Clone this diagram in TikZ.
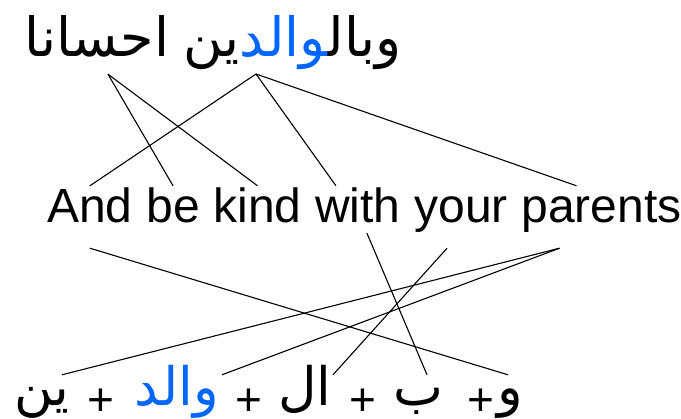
\documentclass[tikz,border=0pt]{standalone}
\usepackage{fontspec}
\usetikzlibrary{positioning}
\setmainfont{Liberation Sans}
\newfontfamily\arabicfont[Script=Arabic]{DejaVu Sans}
\TeXXeTstate=1
\definecolor{arblue}{RGB}{0,102,255}
\newcommand{\ar}[1]{{\arabicfont\beginR #1\endR}}
\tikzset{
  enword/.style={
    inner sep=0pt,
    text height=37pt,
    text depth=25pt,
    font=\fontsize{48}{56}\selectfont
  },
  artop/.style={
    inner sep=0pt,
    text height=50pt,
    text depth=16pt,
    font=\fontsize{54}{60}\selectfont
  },
  arbottom/.style={
    inner sep=0pt,
    text height=31pt,
    text depth=10pt,
    anchor=base,
    font=\fontsize{53}{60}\selectfont
  },
  plussign/.style={
    inner sep=0pt,
    anchor=base,
    font=\fontsize{46}{52}\selectfont
  },
  link/.style={
    line width=1.1pt,
    draw=black
  }
}

\begin{document}
\begin{tikzpicture}[x=1pt, y=-1pt, node distance=13.34pt]
  \useasboundingbox (0,0) rectangle (681,419);

  % Arabic verse
  \node[artop, anchor=base] (ihsana) at (97,57) {\ar{احسانا}};
  \node[artop, anchor=base east] (wbal) at (402,57) {\ar{وبال^^^^200d}};
  \node[artop, text=arblue, base left=0pt of wbal] (waldtop) {\ar{^^^^200dوالد}};
  \node[artop, base left=0pt of waldtop] (yntop) {\ar{ين}};

  % English translation
  \node[enword, anchor=base west] (and) at (47,223) {And};
  \node[enword, base right=of and] (be) {be};
  \node[enword, base right=of be] (kind) {kind};
  \node[enword, base right=of kind] (with) {with};
  \node[enword, base right=of with] (your) {your};
  \node[enword, base right=of your] (parents) {parents};

  % morphemes
  \node[arbottom] (yn) at (42,406) {\ar{ين}};
  \node[plussign] (plusa) at (101,416) {+};
  \node[arbottom, text=arblue] (wald) at (177,406) {\ar{والد}};
  \node[plussign] (plusb) at (249,416) {+};
  \node[arbottom] (al) at (305,406) {\ar{ال}};
  \node[plussign] (plusc) at (363,416) {+};
  \node[arbottom] (ba) at (418,406) {\ar{ب}};
  \node[plussign] (plusd) at (481,416) {+};
  \node[arbottom] (wa) at (510,406) {\ar{و}};

  \coordinate (ihsanaroot) at ([xshift=11pt,yshift=-1pt]ihsana.south);
  \coordinate (walidaynroot) at (256,74);

  \draw[link] (ihsanaroot) -- (be.north);
  \draw[link] (ihsanaroot) -- (kind.north);
  \draw[link] (walidaynroot) -- (and.north);
  \draw[link] (walidaynroot) -- ([xshift=-22pt]with.north);
  \draw[link] (walidaynroot) -- ([xshift=-25pt]parents.north);

  \draw[link] (and.south) -- ([xshift=-2pt]wa.north);
  \draw[link] ([xshift=9pt,yshift=15pt]with.south) -- ([xshift=9pt]ba.north);
  \draw[link] ([xshift=-14pt]your.south) -- ([xshift=28pt]al.north);
  \draw[link] ([xshift=-42pt]parents.south) -- ([xshift=45pt]wald.north);
  \draw[link] ([xshift=-42pt]parents.south) -- ([xshift=20pt]yn.north);
\end{tikzpicture}
\end{document}
